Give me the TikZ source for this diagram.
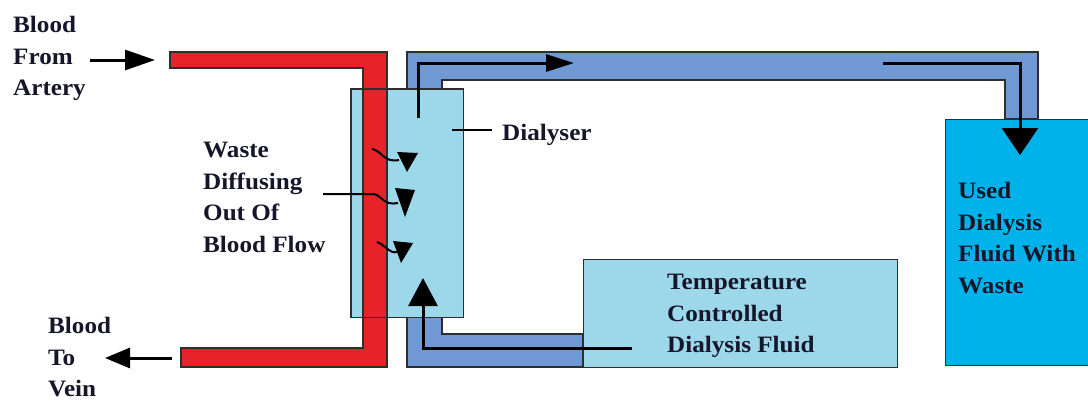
\documentclass[tikz,border=0pt]{standalone}
\usepackage{fontspec}
\setmainfont{Liberation Serif}[FakeStretch=1.07]
\usetikzlibrary{arrows.meta}
\definecolor{bloodred}{HTML}{E52329}
\definecolor{pipeblue}{HTML}{7098D2}
\definecolor{dialblue}{HTML}{9DD7EA}
\definecolor{usedblue}{HTML}{00B2EA}
\definecolor{edgegray}{HTML}{2E2E2E}
\definecolor{txt}{HTML}{16162A}
\begin{document}
\begin{tikzpicture}[x=1pt,y=-1pt,
  lbl/.style={font=\fontsize{23.5}{31.5}\selectfont\bfseries, text=txt, align=left, inner sep=0pt, anchor=north west},
  pipe/.style={draw=edgegray, line width=1.1pt},
  boxstyle/.style={draw=edgegray, line width=1.1pt, inner sep=0pt, anchor=north west},
  flow/.style={line width=3pt, black},
  waste/.style={line width=2pt, black},
]
\path[use as bounding box, fill=white] (0,0) rectangle (1088,400);

% dialysis fluid pipe
\path[pipe, fill=pipeblue] (407,52) -- (1038,52) -- (1038,119) -- (1005,119) -- (1005,80)
  -- (442,80) -- (442,334) -- (583,334) -- (583,367) -- (407,367) -- cycle;

% dialyser (fill)
\node[boxstyle, draw=none, fill=dialblue, minimum width=111pt, minimum height=227pt] (dialyser) at (351,89) {};

% blood pipe
\path[pipe, fill=bloodred] (170,52) -- (387,52) -- (387,367) -- (181,367) -- (181,348)
  -- (363,348) -- (363,68) -- (170,68) -- cycle;

% dialyser outline
\draw[edgegray, line width=1.1pt] (dialyser.north west) rectangle (dialyser.south east);

% boxes
\node[boxstyle, fill=dialblue, minimum width=314pt, minimum height=108pt] (temp) at (583,259) {};
\node[boxstyle, fill=usedblue, minimum width=150pt, minimum height=246pt] (used) at (945,119) {};

% labels
\node[lbl] (artery) at (13,16) {Blood\\From\\Artery};
\node[lbl] (vein) at (48,317) {Blood\\To\\Vein};
\node[lbl] (wastetxt) at (203,142) {Waste\\Diffusing\\Out Of\\Blood Flow};
\node[lbl, anchor=base west] (dlabel) at (502,140) {Dialyser};
\node[lbl] (temptxt) at (667,274) {Temperature\\Controlled\\Dialysis Fluid};
\node[lbl] (usedtxt) at (958,182) {Used\\Dialysis\\Fluid With\\Waste};

% flow arrows
\coordinate (inA) at (90,60);   \coordinate (inB) at (155,60);
\coordinate (outA) at (172,358); \coordinate (outB) at (105,358);
\draw[flow, -{Triangle[length=30pt,width=20pt]}] (inA) -- (inB);
\draw[flow, -{Triangle[length=25pt,width=20pt]}] (outA) -- (outB);

\coordinate (fa) at (418,118); \coordinate (fb) at (574,63);
\draw[flow, -{Triangle[length=28pt,width=17pt]}] (fa) |- (fb);
\coordinate (fc) at (883,63); \coordinate (fd) at (1020,155);
\draw[flow, -{Triangle[length=27pt,width=36pt]}] (fc) -| (fd);
\coordinate (fe) at (632,348); \coordinate (ff) at (423,278);
\draw[flow, -{Triangle[length=28pt,width=29pt]}] (fe) -| (ff);

% dialyser pointer
\draw[line width=2.5pt] (452,130) -- (492,130);

% waste arrows
\draw[waste] (372,149) .. controls (382,151) and (384,163) .. (399,160);
\fill (397,152) -- (418,153) -- (407,172) -- cycle;
\draw[waste] (323,194) -- (374,194) .. controls (382,196) and (384,206) .. (398,203);
\fill (395,188) -- (415,190) -- (405,217) -- cycle;
\draw[waste] (377,242) .. controls (386,245) and (388,254) .. (398,252);
\fill (393,241) -- (413,243) -- (401,263) -- cycle;
\end{tikzpicture}
\end{document}
